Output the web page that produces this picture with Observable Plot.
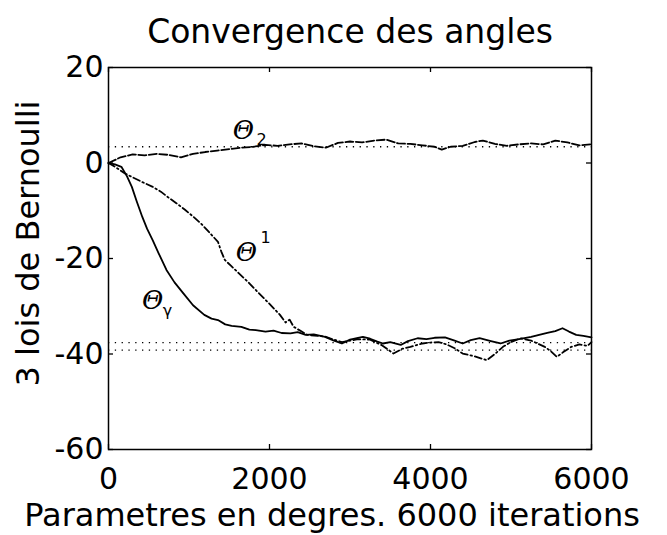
<!DOCTYPE html>
<html>
<head>
<meta charset="utf-8">
<script src="https://cdn.jsdelivr.net/npm/d3@7"></script>
<script src="https://cdn.jsdelivr.net/npm/@observablehq/plot@0.6"></script>
<style>
  html, body { margin: 0; padding: 0; background: #fff; }
  #chart svg { display: block; }
</style>
</head>
<body>
<div id="chart"></div>
<script>
// ---- Data ----
const titleText = "Convergence des angles";
const xLabelText = "Parametres en degres. 6000 iterations";
const yLabelText = "3 lois de Bernoulli";

const xTicks = [0, 2000, 4000, 6000];
const yTicks = [20, 0, -20, -40, -60];

// theta_2 (upper curve)
const theta2Iter = [0, 150, 300, 450, 600, 750, 900, 1050, 1200, 1350, 1500, 1650, 1800, 1950, 2100, 2250, 2400, 2550, 2700, 2850, 3000, 3150, 3300, 3450, 3600, 3750, 3900, 4050, 4140, 4250, 4400, 4550, 4650, 4800, 4950, 5100, 5250, 5400, 5550, 5700, 5850, 6000];
const theta2Val  = [0, 1.2, 1.8, 1.6, 1.9, 1.7, 1.2, 1.9, 2.3, 2.6, 2.9, 3.2, 3.4, 3.8, 3.6, 3.9, 4.1, 3.5, 3.2, 4.2, 4.5, 4.3, 4.7, 4.9, 4.1, 4.0, 3.7, 3.4, 2.8, 3.4, 3.6, 4.4, 4.7, 4.0, 3.6, 3.9, 4.1, 3.9, 4.7, 4.3, 3.7, 3.9];

// theta^1 (middle dashed curve)
const theta1Iter = [0, 100, 205, 300, 420, 550, 650, 750, 850, 950, 1050, 1150, 1250, 1360, 1400, 1445, 1520, 1620, 1750, 1870, 2000, 2130, 2200, 2250, 2300, 2400, 2470, 2600, 2700, 2800, 2900, 3000, 3100, 3250, 3400, 3540, 3650, 3750, 3900, 4000, 4100, 4200, 4300, 4400, 4550, 4700, 4800, 4900, 5000, 5120, 5250, 5420, 5500, 5570, 5650, 5750, 5850, 5950, 6000];
const theta1Val  = [0, -1, -2.2, -3, -4, -5, -6, -7.3, -8.5, -9.8, -11.2, -12.7, -14.5, -16.5, -18.5, -20.3, -21.5, -23.1, -25.2, -27.3, -29.5, -31.8, -33.4, -32.8, -34.3, -35.3, -36.0, -36.2, -36.4, -37.0, -37.5, -37.2, -36.9, -37.0, -38.2, -39.9, -38.9, -38.5, -37.8, -37.6, -37.5, -38.0, -38.8, -39.9, -40.5, -41.3, -40.0, -38.5, -37.5, -36.7, -37.2, -38.5, -39.5, -40.6, -39.6, -38.5, -38.0, -38.3, -37.5];

// theta_gamma (solid curve)
const thetaGIter = [0, 80, 160, 230, 290, 350, 420, 480, 550, 620, 720, 820, 930, 1050, 1190, 1280, 1360, 1450, 1530, 1650, 1750, 1830, 1950, 2050, 2150, 2260, 2350, 2450, 2550, 2690, 2800, 2900, 3000, 3100, 3160, 3250, 3340, 3410, 3500, 3630, 3720, 3840, 3950, 4050, 4180, 4300, 4400, 4500, 4610, 4750, 4870, 4980, 5100, 5250, 5350, 5450, 5550, 5640, 5720, 5810, 5900, 6000];
const thetaGVal  = [0, -0.3, -0.8, -2.8, -5, -8, -11.3, -13.8, -16.2, -18.8, -22.4, -25, -27.3, -29.8, -31.8, -32.6, -32.9, -33.8, -34.1, -34.3, -34.9, -35.0, -35.3, -35.1, -35.6, -35.7, -35.4, -36.0, -35.9, -36.4, -37.2, -37.8, -37.0, -36.6, -36.4, -36.8, -37.4, -37.8, -37.5, -38.1, -37.3, -36.7, -36.9, -36.6, -36.5, -37.2, -37.8, -37.1, -36.7, -37.3, -37.8, -37.2, -36.9, -36.4, -36.0, -35.6, -35.2, -34.6, -35.3, -36.0, -36.2, -36.5];

// dotted reference levels
const refLevels = [3.4, -37.6, -39.2];

// curve labels: base glyph, index text, positions
const labelIter  = [1677, 1714, 547];
const labelVal   = [6.8, -18.7, -28.8];
const labelIndex = ["2", "1", "\u03b3"];
const labelIndexDx = [18, 19, 15];
const labelIndexDy = [9, -14, 10];

// ---- Build tables ----
const s2 = theta2Iter.map((x, i) => ({x, y: theta2Val[i]}));
const s1 = theta1Iter.map((x, i) => ({x, y: theta1Val[i]}));
const sG = thetaGIter.map((x, i) => ({x, y: thetaGVal[i]}));
const labels = labelIter.map((x, i) => ({x, y: labelVal[i], idx: labelIndex[i], dx: labelIndexDx[i], dy: labelIndexDy[i]}));

const tickLenX = 80 * 5 / 382; // inward tick length in y units
const tickLenY = 6000 * 5 / 483;

const chart = Plot.plot({
  width: 667,
  height: 535,
  marginLeft: 108,
  marginRight: 76,
  marginTop: 67,
  marginBottom: 86,
  style: {fontFamily: "DejaVu Sans", color: "#000", background: "#fff"},
  x: {domain: [0, 6000]},
  y: {domain: [-60, 20]},
  marks: [
    // dotted reference levels
    Plot.ruleY(refLevels, {x1: 0, x2: 6000, stroke: "#000", strokeWidth: 1.3, strokeDasharray: "1.3,5.5"}),
    // curves
    Plot.line(s2, {x: "x", y: "y", stroke: "#000", strokeWidth: 1.8, strokeDasharray: "8,2.5"}),
    Plot.line(s1, {x: "x", y: "y", stroke: "#000", strokeWidth: 1.8, strokeDasharray: "7,3,1.5,3"}),
    Plot.line(sG, {x: "x", y: "y", stroke: "#000", strokeWidth: 1.8}),
    // curve labels
    Plot.text(labels, {x: "x", y: "y", text: () => "\u0398", fontSize: 26, fontStyle: "italic", fontFamily: "DejaVu Serif", fill: "#000"}),
    ...labels.map(l => Plot.text([l], {x: "x", y: "y", text: "idx", fontSize: 16, fontFamily: "DejaVu Sans", fill: "#000", dx: l.dx, dy: l.dy})),
    // frame
    Plot.frame({stroke: "#000", strokeWidth: 1.5}),
    // inward ticks
    Plot.ruleX(xTicks, {y1: -60, y2: -60 + tickLenX, stroke: "#000", strokeWidth: 1.3}),
    Plot.ruleX(xTicks, {y1: 20, y2: 20 - tickLenX, stroke: "#000", strokeWidth: 1.3}),
    Plot.ruleY(yTicks, {x1: 0, x2: tickLenY, stroke: "#000", strokeWidth: 1.3}),
    Plot.ruleY(yTicks, {x1: 6000, x2: 6000 - tickLenY, stroke: "#000", strokeWidth: 1.3}),
    // axes
    Plot.axisX(xTicks, {tickSize: 0, tickPadding: 18, fontSize: 30, label: null, tickFormat: d => String(d)}),
    Plot.axisY(yTicks, {tickSize: 0, tickPadding: 5, fontSize: 30, label: null, tickFormat: d => String(d)}),
    // title and axis titles
    Plot.text([titleText], {frameAnchor: "top", dy: -48, fontSize: 33, fill: "#000"}),
    Plot.text([xLabelText], {frameAnchor: "bottom", dy: 76, dx: -18, fontSize: 32, fill: "#000"}),
    Plot.text([yLabelText], {frameAnchor: "left", dx: -80, dy: -15, rotate: -90, textAnchor: "middle", lineAnchor: "middle", fontSize: 32, fill: "#000"})
  ]
});

document.getElementById("chart").appendChild(chart);
</script>
</body>
</html>
